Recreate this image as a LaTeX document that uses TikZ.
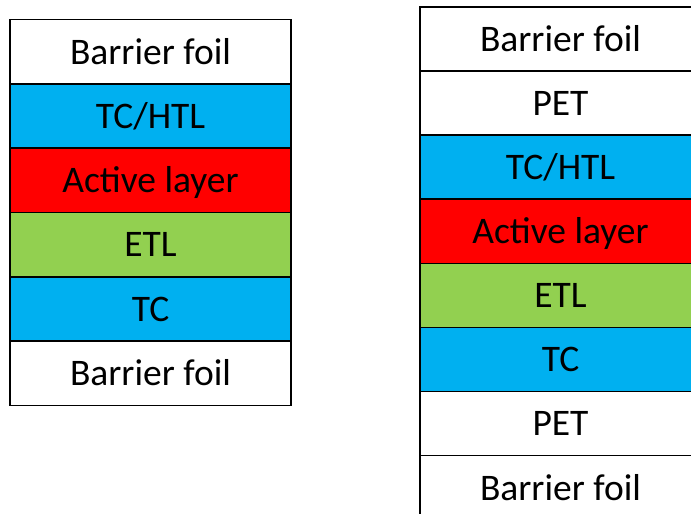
\documentclass[tikz,border=0pt]{standalone}
\usepackage{fontspec}
\setmainfont{Carlito}
\definecolor{tcblue}{HTML}{00B0F0}
\definecolor{actred}{HTML}{FF0000}
\definecolor{etlgreen}{HTML}{92D050}
\begin{document}
\begin{tikzpicture}[x=1pt,y=-1pt,
  layer/.style={draw=black,line width=1.6pt,rectangle,minimum width=281pt,
    inner sep=0pt,font=\fontsize{37.5}{40}\selectfont,text=black,
    text height=27pt,text depth=2.3pt},
  lyl/.style={layer,minimum height=64.3pt},
  lyr/.style={layer,minimum height=64.1pt}]
\useasboundingbox (0,0) rectangle (691,514);
\clip (0,0) rectangle (691,514);
% left stack
\node[lyl,fill=white]    (l1) at (150.5,51.7)  {Barrier foil};
\node[lyl,fill=tcblue]   (l2) at (150.5,116.0) {TC/HTL};
\node[lyl,fill=actred]   (l3) at (150.5,180.3) {Active layer};
\node[lyl,fill=etlgreen] (l4) at (150.5,244.6) {ETL};
\node[lyl,fill=tcblue]   (l5) at (150.5,308.9) {TC};
\node[lyl,fill=white]    (l6) at (150.5,373.2) {Barrier foil};
% right stack
\node[lyr,fill=white]    (r1) at (560.5,39.0)  {Barrier foil};
\node[lyr,fill=white]    (r2) at (560.5,103.1) {PET};
\node[lyr,fill=tcblue]   (r3) at (560.5,167.2) {TC/HTL};
\node[lyr,fill=actred]   (r4) at (560.5,231.3) {Active layer};
\node[lyr,fill=etlgreen] (r5) at (560.5,295.4) {ETL};
\node[lyr,fill=tcblue]   (r6) at (560.5,359.5) {TC};
\node[lyr,fill=white]    (r7) at (560.5,423.6) {PET};
\node[lyr,fill=white]    (r8) at (560.5,487.7) {Barrier foil};
\end{tikzpicture}
\end{document}
